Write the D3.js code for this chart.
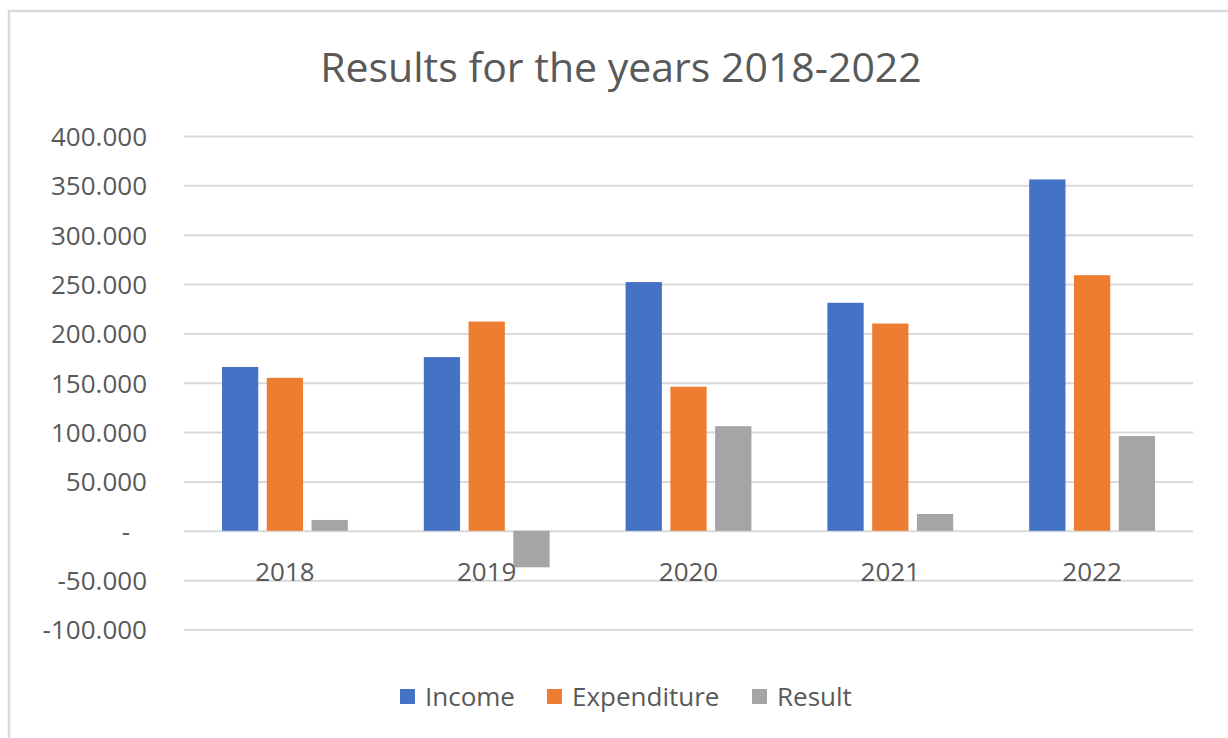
<!DOCTYPE html>
<html>
<head>
<meta charset="utf-8">
<script src="https://cdn.jsdelivr.net/npm/d3@7"></script>
<style>
  body { margin: 0; background: #fff; }
  text { font-family: "Open Sans", sans-serif; fill: #595959; }
</style>
</head>
<body>
<div id="chart"></div>
<script>
// values
var years = ["2018", "2019", "2020", "2021", "2022"];
var seriesNames = ["Income", "Expenditure", "Result"];
var income = [166000, 176000, 252000, 231000, 356000];
var expenditure = [155000, 212000, 146000, 210000, 259000];
var result = [11000, -37000, 106000, 17000, 96000];
var yTicks = [-100000, -50000, 0, 50000, 100000, 150000, 200000, 250000, 300000, 350000, 400000];
var colors = ["#4472C4", "#ED7D31", "#A5A5A5"];

var values = [income, expenditure, result];
var rows = years.map(function(y, i) {
  return seriesNames.map(function(s, j) { return {year: y, name: s, value: values[j][i]}; });
});

var W = 1228, H = 738;
var svg = d3.select("#chart").append("svg").attr("width", W).attr("height", H);

// outer chart border (runs off the right and bottom)
svg.append("rect")
  .attr("x", 9).attr("y", 11)
  .attr("width", 1260).attr("height", 800)
  .attr("fill", "none").attr("stroke", "#d9d9d9").attr("stroke-width", 2.5);

var left = 184, right = 1193;

var x0 = d3.scaleBand().domain(years).range([left, right]).padding(0);
var x1 = d3.scaleBand().domain(seriesNames)
  .range([38, x0.bandwidth() - 38]).paddingInner(0.19).paddingOuter(0);
var y = d3.scaleLinear().domain([-100000, 400000]).range([629.5, 136]);

var loc = d3.formatLocale({decimal: ",", thousands: ".", grouping: [3], currency: ["", ""], minus: "-"});
var fmt = loc.format(",");

svg.append("text")
  .attr("x", 621).attr("y", 82)
  .attr("text-anchor", "middle")
  .style("font-size", "41px")
  .text("Results for the years 2018-2022");

var gy = svg.append("g")
  .attr("transform", "translate(" + left + ",0)")
  .call(d3.axisLeft(y).tickValues(yTicks)
    .tickSize(-(right - left)).tickPadding(37)
    .tickFormat(function(d) { return d === 0 ? "-" : fmt(d); }));
gy.select(".domain").remove();
gy.selectAll("line").attr("stroke", "#d9d9d9").attr("stroke-width", 2);
gy.selectAll("text").style("font-size", "26px").attr("dy", "0.36em");
gy.selectAll(".tick").filter(function(d) { return d === 0; })
  .select("text").attr("dx", -17);

var gb = svg.append("g").selectAll("g")
  .data(rows)
  .join("g")
  .attr("transform", function(d, i) { return "translate(" + x0(years[i]) + ",0)"; });

gb.selectAll("rect")
  .data(function(d) { return d; })
  .join("rect")
  .attr("x", function(d) { return x1(d.name); })
  .attr("y", function(d) { return y(Math.max(0, d.value)); })
  .attr("width", x1.bandwidth())
  .attr("height", function(d) { return Math.abs(y(d.value) - y(0)); })
  .attr("fill", function(d, i) { return colors[i]; });

var gx = svg.append("g")
  .attr("transform", "translate(0," + y(0) + ")")
  .call(d3.axisBottom(x0).tickSize(0).tickPadding(0));
gx.select(".domain").remove();
gx.selectAll("text").attr("y", 50).attr("dy", 0).style("font-size", "26px");

// legend
var legendX = [400, 547, 752];
var lg = svg.append("g").selectAll("g")
  .data(seriesNames)
  .join("g")
  .attr("transform", function(d, i) { return "translate(" + legendX[i] + ",689)"; });
lg.append("rect").attr("width", 15).attr("height", 15)
  .attr("fill", function(d, i) { return colors[i]; });
lg.append("text").attr("x", 25).attr("y", 7.5).attr("dy", "0.36em")
  .style("font-size", "26px")
  .text(function(d) { return d; });
</script>
</body>
</html>
